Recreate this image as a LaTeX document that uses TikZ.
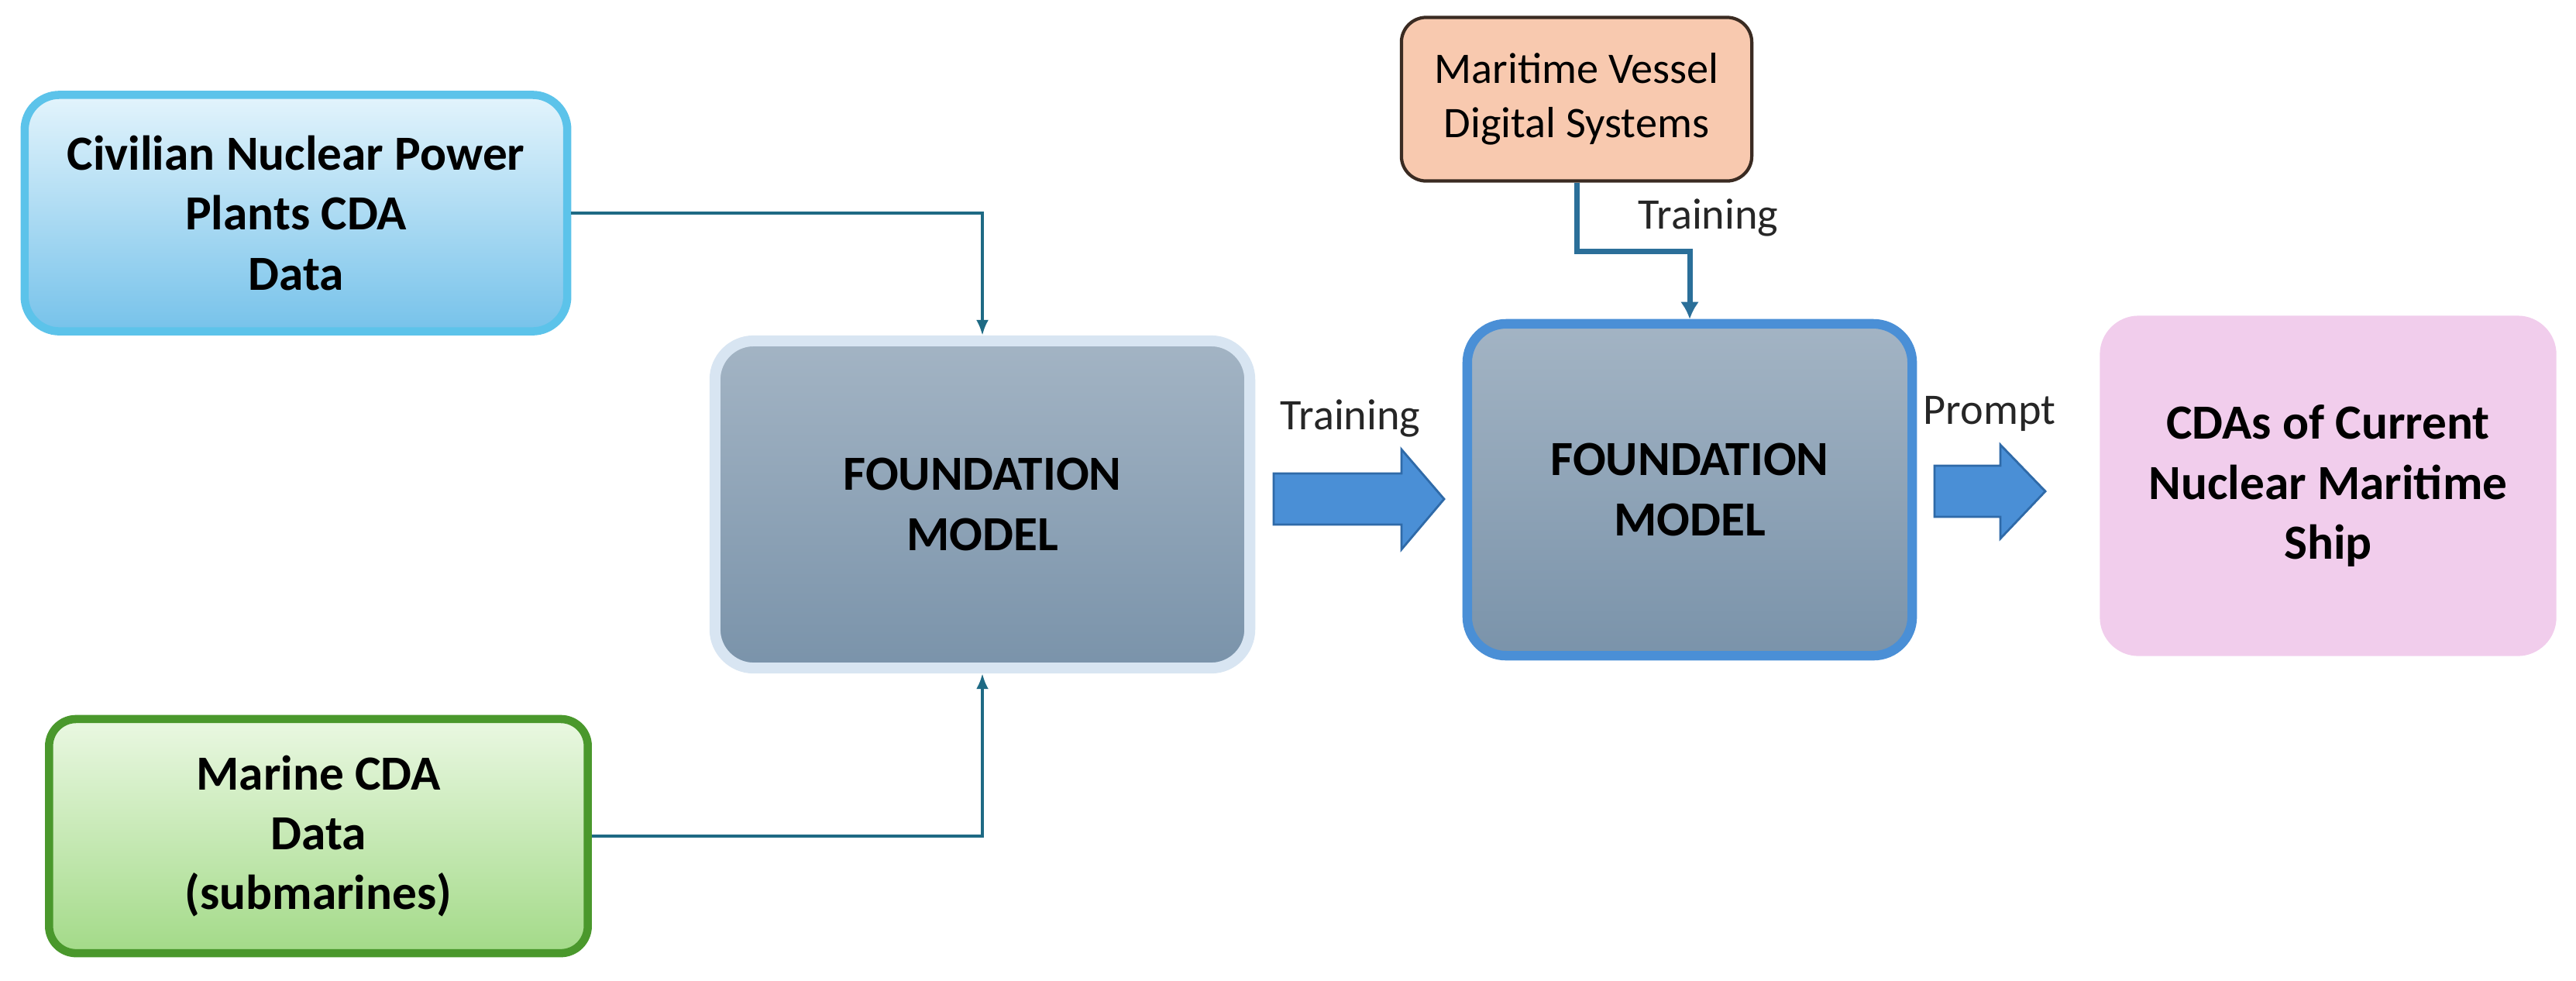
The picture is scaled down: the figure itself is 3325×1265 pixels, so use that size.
\documentclass[tikz,border=0pt]{standalone}
\usepackage{fontspec}
\setmainfont{Carlito}
\usetikzlibrary{arrows.meta}
\definecolor{civborder}{HTML}{5CC3EA}
\definecolor{civtop}{HTML}{E3F4FC}
\definecolor{civbot}{HTML}{76C2EA}
\definecolor{marborder}{HTML}{4A982C}
\definecolor{martop}{HTML}{EAF8E2}
\definecolor{marbot}{HTML}{A3DA88}
\definecolor{fmtop}{HTML}{A3B4C4}
\definecolor{fmbot}{HTML}{7A93AA}
\definecolor{fmglow}{HTML}{D8E5F2}
\definecolor{fmblue}{HTML}{4A8FD6}
\definecolor{vesfill}{HTML}{F8C9AF}
\definecolor{vesborder}{HTML}{3A2B22}
\definecolor{cdafill}{HTML}{F1CDEC}
\definecolor{linkteal}{HTML}{1E6A84}
\definecolor{linkblue}{HTML}{2B6F99}
\definecolor{arrowblue}{HTML}{4A8FD6}
\definecolor{arrowedge}{HTML}{2F6AA8}

\begin{document}
\begin{tikzpicture}[x=0.01cm, y=-0.01cm,
    box/.style={rounded corners=0.45cm, align=center, inner sep=0pt,
                font=\fontsize{18}{22}\selectfont\bfseries},
    fmbox/.style={box, top color=fmtop, bottom color=fmbot, rounded corners=0.5cm},
    link/.style={draw=linkteal, line width=1pt, -{Latex[length=2mm,width=1.6mm]}},
    lbl/.style={font=\fontsize{16}{20}\selectfont, text=black!85},
    blockarrow/.style={fill=arrowblue, draw=arrowedge, line width=0.8pt, line join=miter}]
                \useasboundingbox (0,0) rectangle (3325,1265);

                % data sources
                \node[box, draw=civborder, line width=3pt, top color=civtop, bottom color=civbot,
                      minimum width=7.0cm, minimum height=3.05cm] (civ) at (382,275)
                      {Civilian Nuclear Power\\Plants CDA\\Data};
                \node[box, draw=marborder, line width=3pt, top color=martop, bottom color=marbot,
                      rounded corners=0.35cm, minimum width=6.95cm, minimum height=3.02cm] (mar) at (411,1079)
                      {Marine CDA\\Data\\(submarines)};
                \node[box, draw=vesborder, line width=1.2pt, fill=vesfill, rounded corners=0.32cm,
                      font=\fontsize{16}{20}\selectfont, minimum width=4.52cm, minimum height=2.11cm] (ves) at (2035,128)
                      {Maritime Vessel\\Digital Systems};

                % models
                \node[fmbox, draw=fmglow, line width=4pt, minimum width=6.9cm, minimum height=4.22cm] (fma) at (1268,651)
                      {FOUNDATION\\MODEL};
                \node[fmbox, draw=fmblue, line width=3.5pt, minimum width=5.74cm, minimum height=4.28cm] (fmb) at (2181,632)
                      {FOUNDATION\\MODEL};
                \node[box, fill=cdafill, rounded corners=0.5cm, minimum width=5.89cm, minimum height=4.39cm] (cda) at (3005,627)
                      {CDAs of Current\\Nuclear Maritime\\Ship};

                % block arrows
                \draw[blockarrow] (1644,611) -- (1809,611) -- (1809,580) -- (1864,644)
                      -- (1809,709) -- (1809,677) -- (1644,677) -- cycle;
                \draw[blockarrow] (2497,601) -- (2582,601) -- (2582,574) -- (2640,634)
                      -- (2582,695) -- (2582,667) -- (2497,667) -- cycle;
                \node[lbl] (traina) at (1743,540) {Training};
                \node[lbl] (prompt) at (2568,534) {Prompt};

                % connectors
                \draw[link] (civ.east) -| (fma.north);
                \draw[link] (mar.east) -| (fma.south);
                \coordinate (kink) at (2035,324);
                \draw[draw=linkblue, line width=2pt, -{Latex[length=2.2mm,width=2.4mm]}]
                      (ves.south) -- (kink) -| (fmb.north);
                \node[lbl] (trainb) at (2205,281) {Training};

            \end{tikzpicture}
\end{document}
